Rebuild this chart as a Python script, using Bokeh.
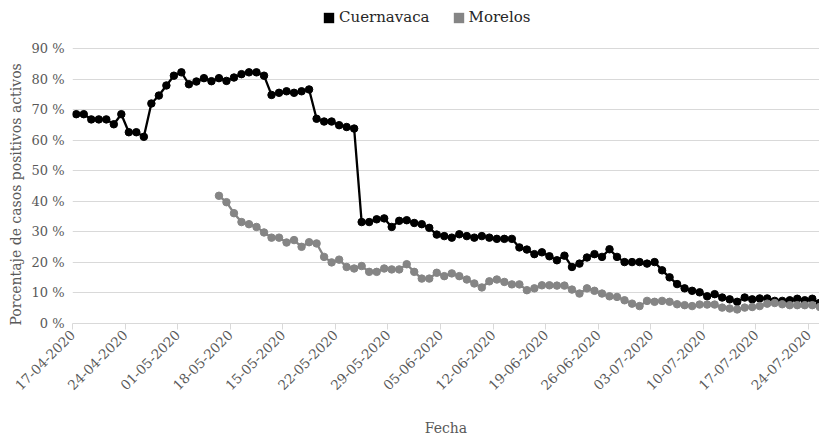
import math
from bokeh.plotting import figure
from bokeh.models import FixedTicker, Legend, LegendItem, ColumnDataSource, Title
from bokeh.embed import file_html
from bokeh.resources import INLINE

# Daily values (%), one per day starting 17-04-2020
cuernavaca = [
    68.5, 68.5, 66.8, 66.8, 66.8, 65.2, 68.5, 62.6, 62.6, 61.1,
    72.0, 74.6, 77.9, 81.1, 82.2, 78.3, 79.2, 80.3, 79.3, 80.3,
    79.4, 80.5, 81.6, 82.2, 82.2, 81.1, 74.8, 75.5, 76.0, 75.5,
    76.0, 76.6, 67.0, 66.1, 66.1, 64.9, 64.3, 63.8, 33.2, 33.2,
    34.1, 34.4, 31.6, 33.6, 33.8, 32.9, 32.5, 31.3, 29.1, 28.6,
    28.1, 29.2, 28.6, 28.1, 28.6, 28.1, 27.7, 27.7, 27.7, 24.9,
    24.2, 22.7, 23.3, 22.0, 20.7, 22.2, 18.5, 19.6, 21.6, 22.7,
    21.8, 24.3, 21.8, 20.1, 20.1, 20.1, 19.6, 20.1, 17.4, 15.1,
    12.9, 11.5, 10.7, 10.2, 8.9, 9.6, 8.5, 7.9, 7.1, 8.5,
    7.9, 8.2, 8.2, 7.4, 7.4, 7.6, 8.1, 7.6, 8.1, 6.7,
]
# Morelos starts on day index 19 (06-05-2020)
morelos_inicio = 19
morelos = [
    41.8, 39.7, 36.1, 33.2, 32.5, 31.6, 29.8, 28.1, 28.1, 26.5,
    27.3, 25.1, 26.6, 26.2, 21.8, 20.0, 20.9, 18.5, 18.0, 18.8,
    16.9, 16.9, 18.0, 17.7, 17.7, 19.4, 16.9, 14.7, 14.7, 16.6,
    15.5, 16.4, 15.5, 14.4, 13.1, 11.8, 13.8, 14.4, 13.6, 12.8,
    12.8, 10.9, 11.5, 12.5, 12.5, 12.4, 12.4, 11.1, 9.8, 11.5,
    10.7, 9.8, 8.9, 8.7, 7.6, 6.5, 5.7, 7.4, 7.1, 7.4,
    7.1, 6.3, 6.0, 5.7, 6.2, 6.2, 6.2, 5.2, 4.9, 4.6,
    5.2, 5.4, 5.7, 6.5, 6.7, 6.3, 6.0, 6.0, 6.0, 6.0,
    5.4,
]
series = ["Cuernavaca", "Morelos"]
etiquetas_x = ["17-04-2020", "24-04-2020", "01-05-2020", "18-05-2020", "15-05-2020",
               "22-05-2020", "29-05-2020", "05-06-2020", "12-06-2020", "19-06-2020",
               "26-06-2020", "03-07-2020", "10-07-2020", "17-07-2020", "24-07-2020"]
dias_x = [0, 7, 14, 21, 28, 35, 42, 49, 56, 63, 70, 77, 84, 91, 98]
valores_y = [0, 10, 20, 30, 40, 50, 60, 70, 80, 90]
etiquetas_y = ["0 %", "10 %", "20 %", "30 %", "40 %", "50 %", "60 %", "70 %", "80 %", "90 %"]

FONT = "DejaVu Serif"
TXT = "#595959"
GRID = "#d9d9d9"
C_CUER = "#000000"
C_MOR = "#858585"

src_c = ColumnDataSource(dict(x=[i + 0.5 for i in range(len(cuernavaca))], y=cuernavaca))
src_m = ColumnDataSource(dict(x=[morelos_inicio + i + 0.5 for i in range(len(morelos))], y=morelos))

# the frame reaches the top of the page so that the legend (drawn inside it) stays visible;
# the extra headroom above 90 % holds the legend
p = figure(width=819, height=440, x_range=(0, 99.46), y_range=(0, 105.71),
           title=None, output_backend="svg", toolbar_location=None,
           min_border_left=72, min_border_right=0, min_border_top=0, min_border_bottom=117)
p.outline_line_color = None
p.background_fill_color = "white"
p.border_fill_color = "white"
p.xgrid.visible = False
p.ygrid.grid_line_color = GRID
p.ygrid.grid_line_width = 1
p.ygrid.ticker = FixedTicker(ticks=valores_y)

p.line("x", "y", source=src_c, color=C_CUER, line_width=2.3)
p.scatter("x", "y", source=src_c, size=7.5, color=C_CUER)
p.line("x", "y", source=src_m, color=C_MOR, line_width=2.3)
p.scatter("x", "y", source=src_m, size=7.5, color=C_MOR)

# y axis
ya = p.yaxis[0]
ya.ticker = FixedTicker(ticks=valores_y)
ya.major_label_overrides = {v: t for v, t in zip(valores_y, etiquetas_y)}
ya.axis_line_color = None
ya.major_tick_line_color = None
ya.minor_tick_line_color = None
ya.major_tick_out = 0
ya.major_tick_in = 0
ya.major_label_standoff = 8
ya.major_label_text_font = FONT
ya.major_label_text_font_size = "13px"
ya.major_label_text_color = TXT

# y axis title, aligned with the 0..90 % part of the frame
ytitle = Title(text="Porcentaje de casos positivos activos", align="left", offset=-2,
               text_font=FONT, text_font_size="14px", text_font_style="normal",
               text_color=TXT, standoff=10)
p.add_layout(ytitle, "left")

# x axis
xa = p.xaxis[0]
xa.ticker = FixedTicker(ticks=dias_x)
xa.major_label_overrides = {d: t for d, t in zip(dias_x, etiquetas_x)}
xa.major_label_orientation = math.pi / 4
xa.axis_line_color = GRID
xa.major_tick_line_color = GRID
xa.minor_tick_line_color = None
xa.major_tick_out = 6
xa.major_tick_in = 0
xa.major_label_standoff = 3
xa.major_label_text_font = FONT
xa.major_label_text_font_size = "13.5px"
xa.major_label_text_color = TXT
xa.axis_label = "Fecha"
xa.axis_label_text_font = FONT
xa.axis_label_text_font_size = "14px"
xa.axis_label_text_font_style = "normal"
xa.axis_label_text_color = TXT
xa.axis_label_standoff = 22

# legend swatches: square patches with no visible extent in the plot (NaN bounds)
nan = float("nan")
sq_c = p.quad(left=[nan], right=[nan], top=[nan], bottom=[nan], fill_color=C_CUER, line_color=None)
sq_m = p.quad(left=[nan], right=[nan], top=[nan], bottom=[nan], fill_color=C_MOR, line_color=None)
legend = Legend(items=[LegendItem(label=series[0], renderers=[sq_c]),
                       LegendItem(label=series[1], renderers=[sq_m])],
                orientation="horizontal", location=(250, 297))
legend.glyph_width = 13
legend.glyph_height = 13
legend.label_standoff = 4
legend.spacing = 22
legend.padding = 0
legend.margin = 0
legend.label_height = 18
legend.label_text_font = FONT
legend.label_text_font_size = "15px"
legend.label_text_color = "#262626"
legend.border_line_color = None
legend.background_fill_alpha = 0
p.add_layout(legend)

open("out.html", "w").write(file_html(p, INLINE))
